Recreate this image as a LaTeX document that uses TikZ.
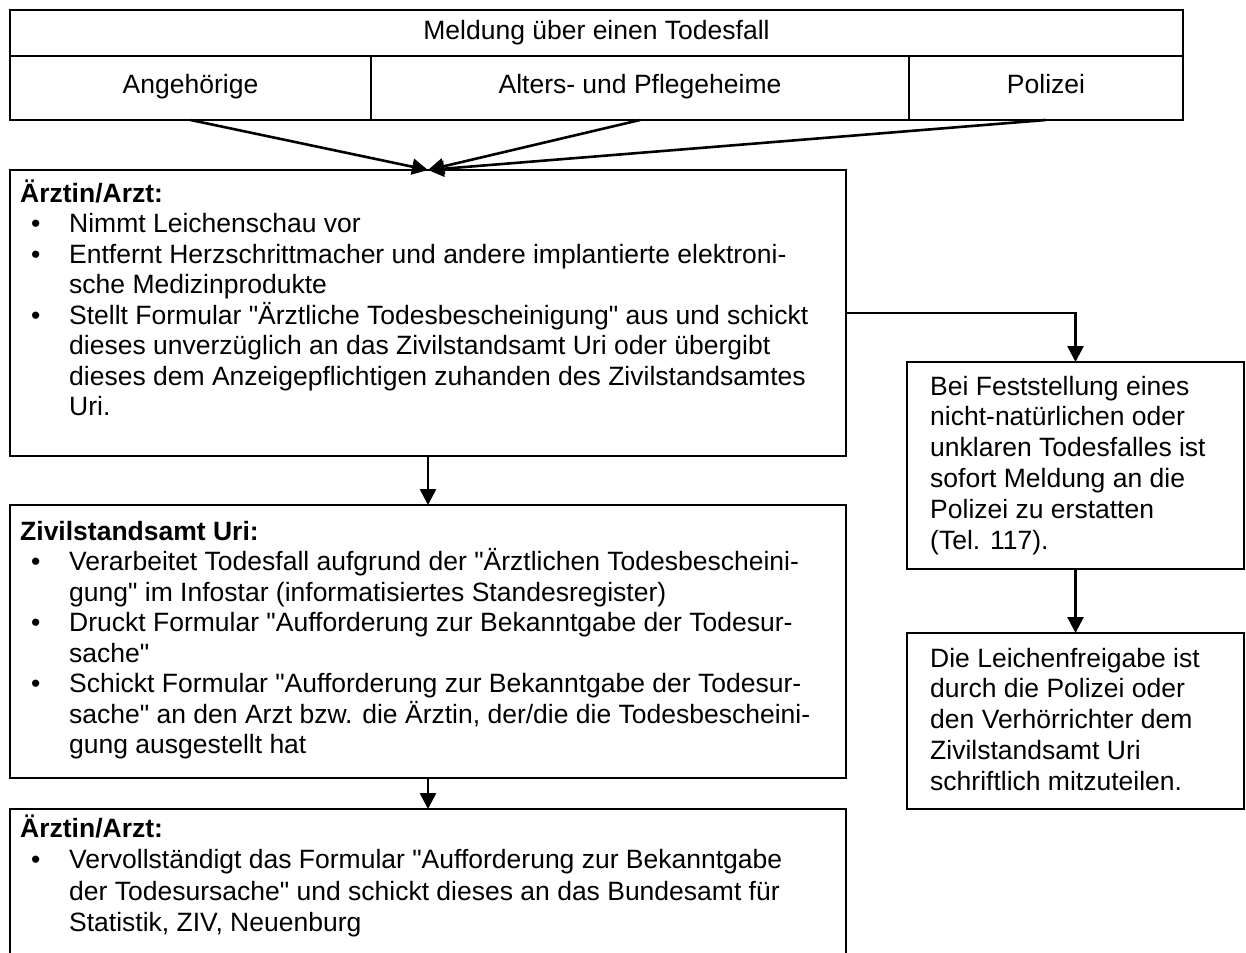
\documentclass[tikz,border=0pt]{standalone}
\usepackage{fontspec}
\setmainfont{Liberation Sans}[Ligatures=TeXOff]
\usetikzlibrary{arrows.meta}
\newlength\itemgap
\newcommand\bitem[1]{\par\vspace{\itemgap}\hangindent=49pt\hangafter=1\noindent\makebox[49pt][l]{\hspace{11pt}\textbullet}#1\par}
\newcommand\blocktext[3]{\parbox[t]{#1}{\fontsize{26.5}{#2}\selectfont\parindent=0pt\hbadness=10000 #3}}
\tikzset{
  box/.style={draw, line width=2.6pt, inner sep=0pt, outer sep=0pt, anchor=north west},
  conn/.style={line width=2.6pt, -{Triangle[length=16pt,width=16pt]}},
  txt/.style={inner sep=0pt, anchor=base west},
  ctxt/.style={inner sep=0pt, anchor=base, font=\fontsize{26.5}{30}\selectfont},
}
\begin{document}
\begin{tikzpicture}[x=1pt,y=1pt]
\useasboundingbox (0,0) rectangle (1246,-952);
\clip (0,0) rectangle (1246,-952);
% table
\node[box, minimum width=1173pt, minimum height=46pt] (title) at (10,-10) {};
\node[box, minimum width=361pt, minimum height=64pt] (cA) at (10,-56) {};
\node[box, minimum width=538pt, minimum height=64pt] (cB) at (371,-56) {};
\node[box, minimum width=274pt, minimum height=64pt] (cC) at (909,-56) {};
\node[ctxt] (tT) at ([yshift=-30pt]title.north) {Meldung über einen Todesfall};
\node[ctxt] (tA) at ([yshift=-38pt]cA.north) {Angehörige};
\node[ctxt] (tB) at ([yshift=-38pt]cB.north) {Alters- und Pflegeheime};
\node[ctxt] (tC) at ([yshift=-38pt]cC.north) {Polizei};
% left boxes
\node[box, minimum width=836pt, minimum height=286pt] (b1) at (10,-170) {};
\node[box, minimum width=836pt, minimum height=273pt] (b2) at (10,-505) {};
\node[box, minimum width=836pt, minimum height=170pt] (b3) at (10,-809) {};
% right boxes
\node[box, minimum width=337pt, minimum height=207pt] (r1) at (907,-362) {};
\node[box, minimum width=337pt, minimum height=176pt] (r2) at (907,-633) {};
% texts
\setlength\itemgap{0pt}
\node[txt] (t1) at (20,-202) {\blocktext{820pt}{30.5}{%
\textbf{Ärztin/Arzt:}\par
\bitem{Nimmt Leichenschau vor}
\bitem{Entfernt Herzschrittmacher und andere implantierte elektroni-\\sche Medizinprodukte}
\bitem{Stellt Formular "Ärztliche Todesbescheinigung" aus und schickt\\dieses unverzüglich an das Zivilstandsamt Uri oder übergibt\\dieses dem Anzeigepflichtigen zuhanden des Zivilstandsamtes\\Uri.}}};
\node[txt] (t2) at (20,-540) {\blocktext{820pt}{30.5}{%
\textbf{Zivilstandsamt Uri:}\par
\bitem{Verarbeitet Todesfall aufgrund der "Ärztlichen Todesbescheini-\\gung" im Infostar (informatisiertes Standesregister)}
\bitem{Druckt Formular "Aufforderung zur Bekanntgabe der Todesur-\\sache"}
\bitem{Schickt Formular "Aufforderung zur Bekanntgabe der Todesur-\\sache" an den Arzt bzw. die Ärztin, der/die die Todesbescheini-\\gung ausgestellt hat}}};
\node[txt] (t3) at (20,-837) {\blocktext{820pt}{31.5}{%
\textbf{Ärztin/Arzt:}\par
\bitem{Vervollständigt das Formular "Aufforderung zur Bekanntgabe\\der Todesursache" und schickt dieses an das Bundesamt für\\Statistik, ZIV, Neuenburg}}};
\node[txt] (t4) at (930,-395) {\blocktext{310pt}{30.8}{%
Bei Feststellung eines\\nicht-natürlichen oder\\unklaren Todesfalles ist\\sofort Meldung an die\\Polizei zu erstatten\\(Tel. 117).}};
\node[txt] (t5) at (930,-667) {\blocktext{310pt}{30.8}{%
Die Leichenfreigabe ist\\durch die Polizei oder\\den Verhörrichter dem\\Zivilstandsamt Uri\\schriftlich mitzuteilen.}};
% connectors
\draw[conn] (cA.south) -- (b1.north);
\draw[conn] (cB.south) -- (b1.north);
\draw[conn] (cC.south) -- (b1.north);
\draw[conn] (b1.south) -- (b2.north);
\draw[conn] (b2.south) -- (b3.north);
\draw[conn] (b1.east) -| (r1.north);
\draw[conn] (r1.south) -- (r2.north);
\end{tikzpicture}
\end{document}
